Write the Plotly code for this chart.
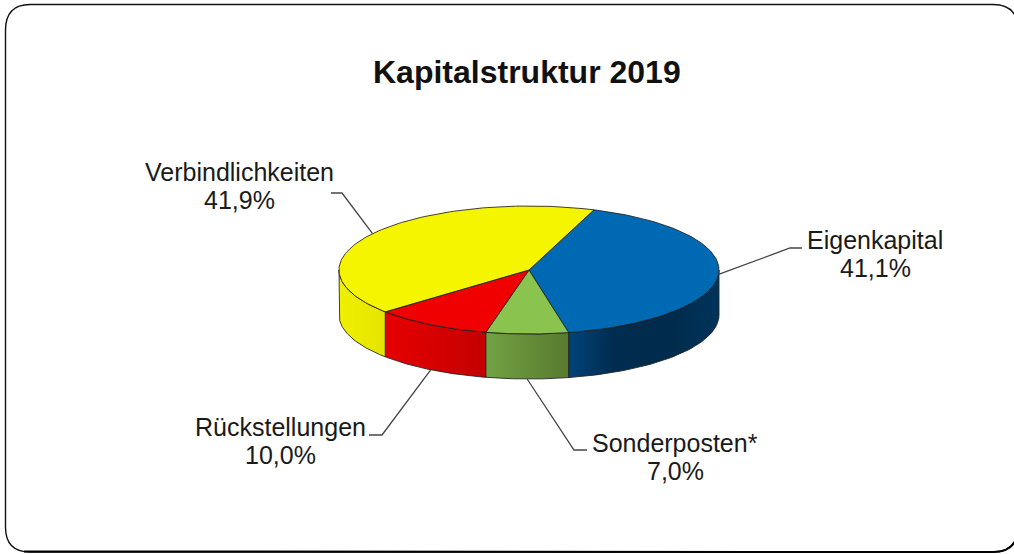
import numpy as np
import plotly.graph_objects as go

# Data
labels = ["Eigenkapital", "Sonderposten*", "Rückstellungen", "Verbindlichkeiten"]
shares = [41.1, 7.0, 10.0, 41.9]
top_colors = ["#0069b4", "#8bc34f", "#f00000", "#f5f500"]
wall_scales = [
    [[0, "#00437a"], [0.3, "#002c4f"], [0.7, "#002b4c"], [1, "#00345c"]],
    [[0, "#72a242"], [1, "#587a2f"]],
    [[0, "#e60000"], [1, "#c40000"]],
    [[0, "#f0f000"], [1, "#e4e400"]],
]
label_pos = [(875, 240), (675, 443), (280, 427), (239, 172)]
elbows = [[(790, 248), (802, 248)], [(574, 450), (587, 450)],
          [(382, 435), (369, 435)], [(342, 193), (331, 193)]]

# Pie geometry, in pixels of the page
CX, CY, RX, RY, DEPTH = 529, 270, 190, 64, 45
START = 20
EDGE = "rgba(30,30,30,0.85)"
LEADER = "#454545"
LINE_GAP = 28


def rim(angles):
    """Ellipse points for clockwise angles measured from the top."""
    t = np.radians(angles)
    return CX + RX * np.sin(t), CY - RY * np.cos(t)


fig = go.Figure()

spans = []
a = START
for s in shares:
    spans.append((a, a + s * 3.6))
    a += s * 3.6

# Side walls first, only the part facing the viewer
for (a0, a1), scale in zip(spans, wall_scales):
    lo, hi = max(a0, 90), min(a1, 270)
    if hi <= lo:
        continue
    ang = np.linspace(lo, hi, 60)
    x, y = rim(ang)
    fig.add_trace(go.Scatter(
        x=np.r_[x, x[::-1], x[0]],
        y=np.r_[y, (y + DEPTH)[::-1], y[0]],
        mode="lines",
        fill="toself",
        fillgradient=dict(type="horizontal", colorscale=scale),
        line=dict(color=EDGE, width=1),
        hoverinfo="skip",
    ))

# Top faces
for (a0, a1), color, name, s in zip(spans, top_colors, labels, shares):
    x, y = rim(np.linspace(a0, a1, 120))
    fig.add_trace(go.Scatter(
        x=np.r_[CX, x, CX],
        y=np.r_[CY, y, CY],
        mode="lines",
        fill="toself",
        fillcolor=color,
        line=dict(color=EDGE, width=1),
        name=name,
        hovertemplate=f"{name}: {s:.1f}%<extra></extra>",
    ))

# Leader lines from the middle of each slice
for (a0, a1), elbow in zip(spans, elbows):
    mid = (a0 + a1) / 2
    x0, y0 = rim(np.array([mid]))
    if 120 < (mid % 360) < 240:
        y0 = y0 + DEPTH
    fig.add_trace(go.Scatter(
        x=[x0[0], elbow[0][0], elbow[1][0]],
        y=[y0[0], elbow[0][1], elbow[1][1]],
        mode="lines",
        line=dict(color=LEADER, width=1.3),
        hoverinfo="skip",
    ))

label_font = dict(family="Liberation Sans", size=25, color="#1a1a1a")
for name, s, (lx, ly) in zip(labels, shares, label_pos):
    pct = f"{s:.1f}%".replace(".", ",")
    fig.add_annotation(x=lx, y=ly, xref="x", yref="y", text=name,
                       showarrow=False, font=label_font)
    fig.add_annotation(x=lx, y=ly + LINE_GAP, xref="x", yref="y", text=pct,
                       showarrow=False, font=label_font)

fig.add_annotation(
    x=527, y=72, xref="x", yref="y",
    text="<b>Kapitalstruktur 2019</b>",
    showarrow=False,
    font=dict(family="Liberation Sans", size=32, color="#111111"),
)

# Rounded frame, runs off the right edge like the original
fig.add_shape(
    type="path",
    path="M 30 4.5 L 993 4.5 Q 1018 4.5 1018 30 L 1018 527 Q 1018 552 993 552 "
         "L 30 552 Q 5.5 552 5.5 527 L 5.5 30 Q 5.5 4.5 30 4.5 Z",
    xref="x", yref="y",
    line=dict(color="#111111", width=1.4),
    layer="below",
)
# Bottom edge is heavier in the original
fig.add_shape(
    type="path",
    path="M 24 551.5 L 993 552 Q 1018 552 1018 527",
    xref="x", yref="y",
    line=dict(color="#000000", width=2),
    layer="below",
)

fig.update_layout(
    width=1014,
    height=554,
    margin=dict(l=0, r=0, t=0, b=0),
    showlegend=False,
    paper_bgcolor="white",
    plot_bgcolor="white",
    xaxis=dict(range=[0, 1014], visible=False, fixedrange=True),
    yaxis=dict(range=[554, 0], visible=False, fixedrange=True),
)

fig.write_html("out.html", config=dict(displayModeBar=False),
               post_script="document.body.style.margin='0';document.body.style.overflow='hidden';")
